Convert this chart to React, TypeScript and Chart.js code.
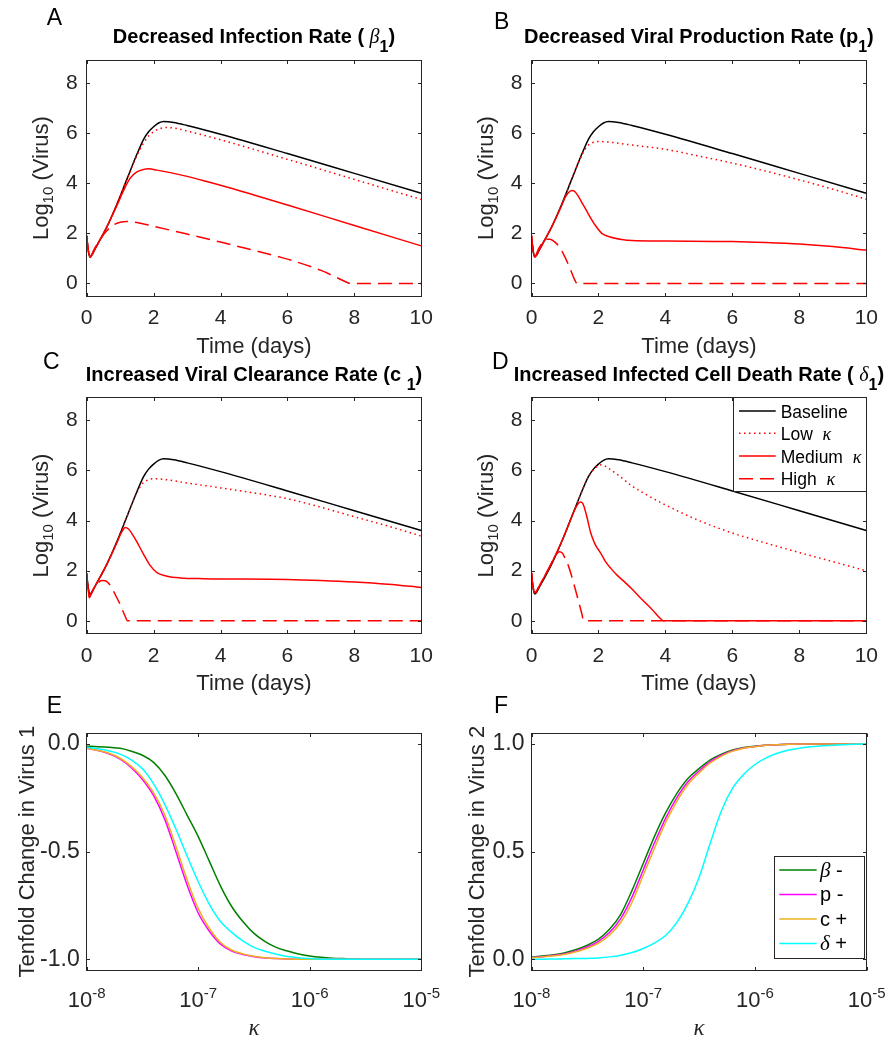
import React, { useEffect, useRef } from 'react';
import { Chart, registerables } from 'chart.js';
Chart.register(...registerables);

const SANS = '"Liberation Sans", Arial, Helvetica, sans-serif';
const SERIF = '"Liberation Serif", "Times New Roman", serif';
const INK = '#262626';
const RED = '#ff0000';

type Pt = [number, number];

// ---------- Panels A-D : log10 virus vs time (days) ----------
const baselineVirus: Pt[] = [[0,1.9],[0.03,1.5],[0.07,1.15],[0.1,1.07],[0.15,1.13],[0.2,1.25],[0.3,1.5],[0.6,2.25],[0.9,3.15],[1.2,4.15],[1.5,5.15],[1.7,5.75],[1.85,6.05],[2.0,6.25],[2.15,6.4],[2.3,6.46],[2.6,6.42],[3,6.3],[4,5.95],[6,5.18],[8,4.39],[10,3.6]];

const lowA: Pt[] = [[0,1.9],[0.03,1.5],[0.07,1.15],[0.1,1.07],[0.15,1.13],[0.2,1.25],[0.3,1.5],[0.6,2.25],[0.9,3.15],[1.2,4.15],[1.5,5.1],[1.7,5.6],[1.85,5.88],[2.0,6.05],[2.2,6.18],[2.4,6.22],[2.7,6.18],[3,6.08],[4,5.73],[6,4.95],[8,4.15],[10,3.35]];
const mediumA: Pt[] = [[0,1.9],[0.03,1.5],[0.07,1.15],[0.1,1.05],[0.15,1.12],[0.2,1.25],[0.3,1.5],[0.6,2.25],[0.9,3.1],[1.1,3.7],[1.3,4.2],[1.5,4.45],[1.7,4.55],[1.85,4.57],[2.1,4.52],[2.5,4.42],[3,4.27],[3.5,4.1],[4,3.92],[5,3.53],[6,3.13],[8,2.31],[10,1.5]];
const highA: Pt[] = [[0,1.9],[0.03,1.5],[0.07,1.15],[0.1,1.05],[0.15,1.15],[0.2,1.3],[0.4,1.75],[0.6,2.1],[0.8,2.33],[1.0,2.44],[1.2,2.47],[1.5,2.43],[2,2.28],[3,1.97],[4,1.65],[5,1.32],[6,0.97],[7,0.52],[7.5,0.22],[7.8,0.03],[7.9,0],[10,0]];

const lowB: Pt[] = [[0,1.9],[0.03,1.5],[0.07,1.15],[0.1,1.07],[0.15,1.13],[0.2,1.25],[0.3,1.5],[0.6,2.25],[0.9,3.15],[1.2,4.15],[1.5,5.1],[1.65,5.45],[1.8,5.6],[2.0,5.66],[2.3,5.64],[3,5.52],[4,5.35],[5,5.08],[6,4.8],[7,4.48],[8,4.13],[9,3.76],[10,3.36]];
const mediumB: Pt[] = [[0,1.9],[0.03,1.5],[0.07,1.15],[0.1,1.05],[0.15,1.12],[0.2,1.25],[0.3,1.5],[0.6,2.25],[0.9,3.1],[1.0,3.42],[1.1,3.62],[1.2,3.71],[1.3,3.66],[1.4,3.47],[1.55,3.12],[1.75,2.65],[1.9,2.33],[2.1,2.0],[2.35,1.85],[2.7,1.75],[3,1.71],[4,1.69],[6,1.67],[7,1.63],[8,1.57],[9,1.47],[10,1.33]];
const highB: Pt[] = [[0,1.9],[0.03,1.5],[0.07,1.15],[0.1,1.08],[0.2,1.35],[0.3,1.58],[0.45,1.76],[0.55,1.76],[0.7,1.65],[0.85,1.42],[1.0,1.05],[1.15,0.6],[1.3,0.12],[1.36,0],[10,0]];

const lowC: Pt[] = [[0,1.87],[0.03,1.45],[0.07,1.1],[0.1,1.02],[0.15,1.1],[0.2,1.25],[0.3,1.5],[0.6,2.25],[0.9,3.15],[1.2,4.15],[1.5,5.1],[1.65,5.45],[1.8,5.6],[2.0,5.67],[2.3,5.64],[3,5.5],[4,5.3],[5,5.1],[6,4.87],[7,4.53],[8,4.15],[9,3.78],[10,3.38]];
const mediumC: Pt[] = [[0,1.87],[0.03,1.4],[0.08,0.95],[0.13,1.05],[0.2,1.25],[0.3,1.5],[0.6,2.25],[0.9,3.1],[1.0,3.42],[1.08,3.62],[1.15,3.72],[1.25,3.66],[1.35,3.48],[1.5,3.15],[1.7,2.65],[1.9,2.2],[2.1,1.92],[2.4,1.78],[2.8,1.71],[3.5,1.68],[6,1.65],[7,1.61],[8,1.55],[9,1.46],[10,1.33]];
const highC: Pt[] = [[0,1.87],[0.03,1.4],[0.08,0.92],[0.15,1.15],[0.3,1.45],[0.45,1.61],[0.55,1.6],[0.7,1.42],[0.85,1.05],[1.0,0.65],[1.15,0.18],[1.22,0],[10,0]];

const lowD: Pt[] = [[0,1.9],[0.03,1.5],[0.07,1.2],[0.1,1.12],[0.15,1.18],[0.2,1.3],[0.3,1.55],[0.6,2.3],[0.9,3.15],[1.2,4.15],[1.5,5.15],[1.7,5.75],[1.85,6.02],[2.0,6.2],[2.1,6.22],[2.3,6.08],[2.6,5.8],[3,5.38],[3.5,4.98],[4,4.62],[5,4.0],[6,3.5],[7,3.1],[8,2.72],[9,2.36],[10,1.99]];
const mediumD: Pt[] = [[0,1.9],[0.03,1.5],[0.07,1.2],[0.1,1.12],[0.15,1.18],[0.2,1.3],[0.3,1.55],[0.6,2.3],[0.9,3.15],[1.1,3.8],[1.3,4.45],[1.38,4.65],[1.46,4.74],[1.53,4.68],[1.6,4.42],[1.68,4.0],[1.77,3.5],[1.9,3.05],[2.07,2.69],[2.2,2.38],[2.37,2.09],[2.57,1.8],[2.77,1.56],[3.0,1.27],[3.27,0.89],[3.6,0.45],[3.9,0.03],[3.95,0],[10,0]];
const highD: Pt[] = [[0,1.9],[0.03,1.5],[0.07,1.2],[0.1,1.12],[0.15,1.18],[0.2,1.3],[0.3,1.55],[0.5,2.05],[0.65,2.45],[0.75,2.66],[0.83,2.75],[0.92,2.7],[1.0,2.5],[1.1,2.2],[1.27,1.45],[1.4,0.8],[1.5,0.3],[1.56,0],[10,0]];

const timeTicks = [0, 2, 4, 6, 8, 10];
const virusTicks = [0, 2, 4, 6, 8];

// ---------- Panels E-F : tenfold change vs kappa ----------
const kappa = [1e-8,1.259e-8,1.585e-8,1.995e-8,2.512e-8,3.162e-8,3.981e-8,5.012e-8,6.31e-8,7.943e-8,
  1e-7,1.259e-7,1.585e-7,1.995e-7,2.512e-7,3.162e-7,3.981e-7,5.012e-7,6.31e-7,7.943e-7,
  1e-6,1.259e-6,1.585e-6,1.995e-6,2.512e-6,3.162e-6,3.981e-6,5.012e-6,6.31e-6,7.943e-6,1e-5];
const virus1Beta = [-0.01,-0.012,-0.015,-0.02,-0.033,-0.052,-0.085,-0.145,-0.23,-0.33,-0.43,-0.545,-0.66,-0.755,-0.825,-0.88,-0.918,-0.945,-0.962,-0.976,-0.985,-0.991,-0.995,-0.997,-0.999,-1,-1,-1,-1,-1,-1];
const virus1P = [-0.02,-0.03,-0.045,-0.07,-0.11,-0.165,-0.24,-0.35,-0.5,-0.655,-0.785,-0.87,-0.93,-0.962,-0.978,-0.988,-0.994,-0.997,-0.999,-1,-1,-1,-1,-1,-1,-1,-1,-1,-1,-1,-1];
const virus1C = [-0.02,-0.029,-0.043,-0.066,-0.104,-0.155,-0.226,-0.33,-0.475,-0.63,-0.765,-0.857,-0.922,-0.957,-0.975,-0.986,-0.993,-0.997,-0.999,-1,-1,-1,-1,-1,-1,-1,-1,-1,-1,-1,-1];
const virus1Delta = [-0.015,-0.022,-0.032,-0.047,-0.073,-0.115,-0.185,-0.28,-0.395,-0.52,-0.64,-0.745,-0.825,-0.875,-0.915,-0.945,-0.963,-0.977,-0.987,-0.993,-0.997,-1,-1,-1,-1,-1,-1,-1,-1,-1,-1];
const virus2Beta = [0.01,0.015,0.021,0.03,0.045,0.065,0.093,0.14,0.21,0.32,0.445,0.57,0.68,0.77,0.84,0.886,0.926,0.953,0.972,0.984,0.99,0.995,0.997,0.999,1,1,1,1,1,1,1];
const virus2P = [0.008,0.012,0.018,0.026,0.039,0.057,0.083,0.125,0.19,0.29,0.415,0.54,0.655,0.75,0.825,0.875,0.918,0.948,0.969,0.982,0.989,0.994,0.997,0.999,1,1,1,1,1,1,1];
const virus2C = [0.007,0.011,0.016,0.023,0.035,0.051,0.075,0.113,0.172,0.265,0.39,0.515,0.635,0.733,0.812,0.866,0.912,0.944,0.967,0.981,0.988,0.994,0.997,0.999,1,1,1,1,1,1,1];
const virus2Delta = [0,0,0.001,0.002,0.003,0.004,0.006,0.011,0.019,0.031,0.05,0.075,0.11,0.17,0.26,0.38,0.54,0.69,0.795,0.86,0.905,0.936,0.957,0.972,0.981,0.987,0.992,0.995,0.997,0.999,1];

const kappaTicks = [1e-8, 1e-7, 1e-6, 1e-5];
const kappaTickExponents = ['-8', '-7', '-6', '-5'];
const change1Ticks = [-1, -0.5, 0];
const change2Ticks = [0, 0.5, 1];

// ---------- styles ----------
const DOT = [1.5, 3.5];
const DASH = [14, 7];

type Seg = { t: string; size: number; bold?: boolean; italic?: boolean; serif?: boolean; dy?: number };
const fontOf = (s: Seg) => `${s.italic ? 'italic ' : ''}${s.bold ? 'bold ' : ''}${s.size}px ${s.serif ? SERIF : SANS}`;

function drawRich(ctx: any, segs: Seg[], x: number, y: number, align: string, color: string, rotate = false) {
  ctx.save();
  ctx.fillStyle = color;
  ctx.textBaseline = 'alphabetic';
  ctx.textAlign = 'left';
  const widths = segs.map((s) => { ctx.font = fontOf(s); return ctx.measureText(s.t).width; });
  const total = widths.reduce((a, b) => a + b, 0);
  ctx.translate(x, y);
  if (rotate) ctx.rotate(-Math.PI / 2);
  let cx = align === 'center' ? -total / 2 : 0;
  segs.forEach((s, i) => { ctx.font = fontOf(s); ctx.fillText(s.t, cx, s.dy || 0); cx += widths[i]; });
  ctx.restore();
}

const timeSeries = (low: Pt[], med: Pt[], high: Pt[]) => [
  { points: baselineVirus, color: '#000000', dash: [], order: 4 },
  { points: low, color: RED, dash: DOT, order: 3 },
  { points: med, color: RED, dash: [], order: 2 },
  { points: high, color: RED, dash: DASH, order: 1 },
];
const kappaSeries = (b: number[], p: number[], c: number[], d: number[]) => [
  { points: kappa.map((k, i) => [k, b[i]] as Pt), color: '#008000', dash: [], order: 4 },
  { points: kappa.map((k, i) => [k, p[i]] as Pt), color: '#ff00ff', dash: [], order: 3 },
  { points: kappa.map((k, i) => [k, c[i]] as Pt), color: '#edb120', dash: [], order: 2 },
  { points: kappa.map((k, i) => [k, d[i]] as Pt), color: '#00ffff', dash: [], order: 1 },
];

const T = 20; // title size
const SUB = 16;
const AX = 22;
const yVirusTitle: Seg[] = [{ t: 'Log', size: AX }, { t: '10', size: 15, dy: 5 }, { t: ' (Virus)', size: AX }];
const xTimeTitle: Seg[] = [{ t: 'Time (days)', size: AX }];
const xKappaTitle: Seg[] = [{ t: 'κ', size: 23, italic: true, serif: true }];

const leftCol = { left: 0, l: 86.7, r: 421.3 };
const rightCol = { left: 444, l: 87.5, r: 422.7 };
const row1 = { top: 0, h: 360, t: 60.3, b: 296, titleY: 42.7 };
const row2 = { top: 337, h: 360, t: 60.7, b: 296.3, titleY: 43.7 };
const row3 = { top: 673, h: 370, t: 60.3, b: 297, titleY: 0 };

const legSize = 17.5;
const panels: any[] = [
  { key: 'A', col: leftCol, row: row1, kind: 'time', letter: [46.7, 25], yTitleX: 47.5,
    title: [{ t: 'Decreased Infection Rate ( ', size: T, bold: true }, { t: 'β', size: T, italic: true, serif: true }, { t: '1', size: SUB, bold: true, dy: 9 }, { t: ')', size: T, bold: true }],
    series: timeSeries(lowA, mediumA, highA) },
  { key: 'B', col: rightCol, row: row1, kind: 'time', letter: [50, 28.5], yTitleX: 48.5,
    title: [{ t: 'Decreased Viral Production Rate (p', size: T, bold: true }, { t: '1', size: SUB, bold: true, dy: 9 }, { t: ')', size: T, bold: true }],
    series: timeSeries(lowB, mediumB, highB) },
  { key: 'C', col: leftCol, row: row2, kind: 'time', letter: [43, 32], yTitleX: 47.5,
    title: [{ t: 'Increased Viral Clearance Rate (c ', size: T, bold: true }, { t: '1', size: SUB, bold: true, dy: 9 }, { t: ')', size: T, bold: true }],
    series: timeSeries(lowC, mediumC, highC) },
  { key: 'D', col: rightCol, row: row2, kind: 'time', letter: [48, 31.5], yTitleX: 48.5,
    title: [{ t: 'Increased Infected Cell Death Rate ( ', size: T, bold: true }, { t: 'δ', size: T, italic: true, serif: true }, { t: '1', size: SUB, bold: true, dy: 9 }, { t: ')', size: T, bold: true }],
    series: timeSeries(lowD, mediumD, highD),
    legend: { box: [289, 60.7, 422.7, 154.7], rows: [74, 96.3, 119, 141.7], x1: 295, x2: 331.7, tx: 336.7,
      labels: [
        [{ t: 'Baseline', size: legSize }],
        [{ t: 'Low  ', size: legSize }, { t: 'κ', size: 18, italic: true, serif: true }],
        [{ t: 'Medium  ', size: legSize }, { t: 'κ', size: 18, italic: true, serif: true }],
        [{ t: 'High  ', size: legSize }, { t: 'κ', size: 18, italic: true, serif: true }],
      ] } },
  { key: 'E', col: leftCol, row: row3, kind: 'kappa', letter: [46.7, 39.7], yTitleX: 34,
    yTitle: [{ t: 'Tenfold Change in Virus 1', size: AX }], yMin: -1.05, yMax: 0.05, yTicks: change1Ticks,
    series: kappaSeries(virus1Beta, virus1P, virus1C, virus1Delta) },
  { key: 'F', col: rightCol, row: row3, kind: 'kappa', letter: [50, 39.7], yTitleX: 39.5,
    yTitle: [{ t: 'Tenfold Change in Virus 2', size: AX }], yMin: -0.05, yMax: 1.05, yTicks: change2Ticks,
    series: kappaSeries(virus2Beta, virus2P, virus2C, virus2Delta),
    legend: { box: [330, 183, 420, 285], rows: [197, 221.5, 246, 270.5], x1: 335.3, x2: 372.7, tx: 376,
      labels: [
        [{ t: 'β', size: 21, italic: true, serif: true }, { t: ' -', size: 20 }],
        [{ t: 'p -', size: 20 }],
        [{ t: 'c +', size: 20 }],
        [{ t: 'δ', size: 21, italic: true, serif: true }, { t: ' +', size: 20 }],
      ] } },
];

const TL = 3.5;

function makeDecor(p: any) {
  return {
    id: 'decor' + p.key,
    afterDatasetsDraw(chart: any) {
      const ctx = chart.ctx;
      const a = chart.chartArea;
      const xs = chart.scales.x;
      const ys = chart.scales.y;
      const L = Math.floor(a.left) + 0.5, R = Math.floor(a.right) + 0.5;
      const Tp = Math.floor(a.top) + 0.5, B = Math.floor(a.bottom) + 0.5;
      ctx.save();
      ctx.strokeStyle = INK;
      ctx.lineWidth = 1;
      ctx.setLineDash([]);
      ctx.beginPath();
      xs.ticks.forEach((t: any) => {
        const px = Math.round(xs.getPixelForValue(t.value)) + 0.5;
        ctx.moveTo(px, B); ctx.lineTo(px, B - TL);
        ctx.moveTo(px, Tp); ctx.lineTo(px, Tp + TL);
      });
      ys.ticks.forEach((t: any) => {
        const py = Math.round(ys.getPixelForValue(t.value)) + 0.5;
        ctx.moveTo(L, py); ctx.lineTo(L + TL, py);
        ctx.moveTo(R, py); ctx.lineTo(R - TL, py);
      });
      ctx.stroke();
      ctx.strokeRect(L, Tp, R - L, B - Tp);

      // legend
      if (p.legend) {
        const g = p.legend;
        const [bx1, by1, bx2, by2] = g.box;
        ctx.fillStyle = '#ffffff';
        ctx.fillRect(bx1, by1, bx2 - bx1, by2 - by1);
        ctx.strokeStyle = INK;
        ctx.lineWidth = 1;
        ctx.strokeRect(Math.floor(bx1) + 0.5, Math.floor(by1) + 0.5, Math.floor(bx2) - Math.floor(bx1), Math.floor(by2) - Math.floor(by1));
        g.labels.forEach((segs: Seg[], i: number) => {
          const ds = chart.data.datasets[i];
          const y = g.rows[i];
          ctx.save();
          ctx.strokeStyle = ds.borderColor;
          ctx.lineWidth = 1.5;
          ctx.setLineDash(ds.borderDash || []);
          ctx.beginPath();
          ctx.moveTo(g.x1, y); ctx.lineTo(g.x2, y);
          ctx.stroke();
          ctx.restore();
          drawRich(ctx, segs, g.tx, y + 6.5, 'left', '#000000');
        });
      }
      ctx.restore();

      const cxm = (a.left + a.right) / 2;
      const cym = (a.top + a.bottom) / 2;
      drawRich(ctx, [{ t: p.key, size: 23 }], p.letter[0], p.letter[1], 'left', '#000000');
      if (p.title) drawRich(ctx, p.title, cxm, p.row.titleY, 'center', '#000000');
      drawRich(ctx, p.kind === 'time' ? yVirusTitle : p.yTitle, p.yTitleX, cym, 'center', INK, true);
      if (p.kind === 'time') drawRich(ctx, xTimeTitle, cxm, a.bottom + 57, 'center', INK);
      else drawRich(ctx, xKappaTitle, cxm, a.bottom + 65, 'center', INK);
      if (p.kind === 'kappa') {
        kappaTicks.forEach((v, i) => {
          const px = xs.getPixelForValue(v);
          drawRich(ctx, [{ t: '10', size: 22 }, { t: kappaTickExponents[i], size: 15, dy: -9 }], px, a.bottom + 36.7, 'center', INK);
        });
      }
    },
  };
}

function buildConfig(p: any) {
  const w = 444;
  const h = p.row.h;
  const area = { l: p.col.l, r: p.col.r, t: p.row.t, b: p.row.b };
  const isTime = p.kind === 'time';
  const yTicks = isTime ? virusTicks : p.yTicks;
  const xTicks = isTime ? timeTicks : kappaTicks;
  return {
    type: 'line',
    data: {
      datasets: p.series.map((s: any) => ({
        data: s.points.map(([x, y]: Pt) => ({ x, y })),
        borderColor: s.color,
        backgroundColor: s.color,
        borderWidth: 1.5,
        borderDash: s.dash,
        borderCapStyle: 'butt',
        borderJoinStyle: 'round',
        pointRadius: 0,
        cubicInterpolationMode: 'monotone',
        fill: false,
        order: s.order,
      })),
    },
    options: {
      responsive: false,
      animation: false,
      devicePixelRatio: 1,
      events: [],
      layout: { padding: { top: area.t, left: 0, right: w - area.r, bottom: 0 } },
      plugins: { legend: { display: false }, tooltip: { enabled: false }, title: { display: false } },
      scales: {
        x: {
          type: isTime ? 'linear' : 'logarithmic',
          min: isTime ? 0 : 1e-8,
          max: isTime ? 10 : 1e-5,
          grid: { display: false, drawTicks: false },
          border: { display: false },
          ticks: {
            display: isTime,
            font: { family: SANS, size: 21 },
            color: INK,
            padding: 10,
            maxRotation: 0,
            autoSkip: false,
            callback: (v: any) => String(v),
          },
          afterBuildTicks: (s: any) => { s.ticks = xTicks.map((v: number) => ({ value: v })); },
          afterFit: (s: any) => { s.height = h - area.b; },
        },
        y: {
          type: 'linear',
          min: isTime ? -0.5 : p.yMin,
          max: isTime ? 8.9 : p.yMax,
          grid: { display: false, drawTicks: false },
          border: { display: false },
          ticks: {
            font: { family: SANS, size: isTime ? 21 : 23 },
            color: INK,
            padding: isTime ? 9 : 7,
            autoSkip: false,
            callback: (v: any) => (isTime ? String(v) : Number(v).toFixed(1)),
          },
          afterBuildTicks: (s: any) => { s.ticks = yTicks.map((v: number) => ({ value: v })); },
          afterFit: (s: any) => { s.width = area.l; },
        },
      },
    },
    plugins: [makeDecor(p)],
  };
}

function Panel({ p }: { p: any }) {
  const ref = useRef<HTMLCanvasElement>(null);
  useEffect(() => {
    const chart = new Chart(ref.current as any, buildConfig(p) as any);
    return () => chart.destroy();
  }, [p]);
  return (
    <canvas
      ref={ref}
      width={444}
      height={p.row.h}
      style={{ position: 'absolute', left: p.col.left, top: p.row.top, width: 444, height: p.row.h }}
    />
  );
}

export default function App() {
  return (
    <div style={{ position: 'absolute', left: 0, top: 0, width: 888, height: 1043, background: '#ffffff', overflow: 'hidden' }}>
      {panels.map((p) => (
        <Panel key={p.key} p={p} />
      ))}
    </div>
  );
}
